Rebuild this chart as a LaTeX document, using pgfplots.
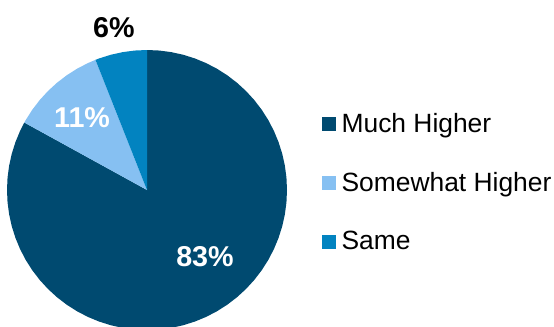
\documentclass[border=0pt]{standalone}
\usepackage{pgfplots}
\pgfplotsset{compat=1.18}
\usepackage{fontspec}
\setmainfont{Liberation Sans}
\definecolor{cNavy}{RGB}{0,74,112}
\definecolor{cLight}{RGB}{134,192,242}
\definecolor{cMid}{RGB}{2,131,192}
\begin{document}
\begin{tikzpicture}
\begin{axis}[
  at={(110.25pt,102pt)}, anchor=center,
  scale only axis, width=210pt, height=210pt,
  xmin=-1, xmax=1, ymin=-1, ymax=1,
  hide axis, clip=false,
  legend style={draw=none, fill=none, at={(1.125,0.527)}, anchor=west,
    font=\fontsize{19.8}{23}\selectfont, row sep=24.5pt, column sep=2pt, inner sep=0pt,
    nodes={inner sep=2pt}},
  legend cell align=left,
  legend image code/.code={\fill[#1] (0pt,-5.25pt) rectangle (10.5pt,5.25pt);},
]
% Much Higher 83%
\addplot[draw=none, fill=cNavy, data cs=polar] coordinates {
(0,0) (151.2,1) (155,1) (160,1) (165,1) (170,1) (175,1) (180,1) (185,1) (190,1)
(195,1) (200,1) (205,1) (210,1) (215,1) (220,1) (225,1) (230,1) (235,1) (240,1)
(245,1) (250,1) (255,1) (260,1) (265,1) (270,1) (275,1) (280,1) (285,1) (290,1)
(295,1) (300,1) (305,1) (310,1) (315,1) (320,1) (325,1) (330,1) (335,1) (340,1)
(345,1) (350,1) (355,1) (360,1) (365,1) (370,1) (375,1) (380,1) (385,1) (390,1)
(395,1) (400,1) (405,1) (410,1) (415,1) (420,1) (425,1) (430,1) (435,1) (440,1)
(445,1) (450,1) (0,0)
};
\addlegendentry{Much Higher}
% Somewhat Higher 11%
\addplot[draw=none, fill=cLight, data cs=polar] coordinates {
(0,0) (111.6,1) (115,1) (120,1) (125,1) (130,1) (135,1) (140,1) (145,1) (150,1) (151.2,1) (0,0)
};
\addlegendentry{Somewhat Higher}
% Same 6%
\addplot[draw=none, fill=cMid, data cs=polar] coordinates {
(0,0) (90,1) (95,1) (100,1) (105,1) (110,1) (111.6,1) (0,0)
};
\addlegendentry{Same}
\node[text=white, font=\fontsize{21.5}{24}\selectfont\bfseries] at (axis cs:0.414,-0.479) {83\%};
\node[text=white, font=\fontsize{21.5}{24}\selectfont\bfseries] at (axis cs:-0.464,0.514) {11\%};
\node[text=black, font=\fontsize{21.5}{24}\selectfont\bfseries] at (axis cs:-0.236,1.157) {6\%};
\end{axis}
\pgfresetboundingbox
\path (0,0) rectangle (415.5pt,244.5pt);
\end{tikzpicture}
\end{document}
